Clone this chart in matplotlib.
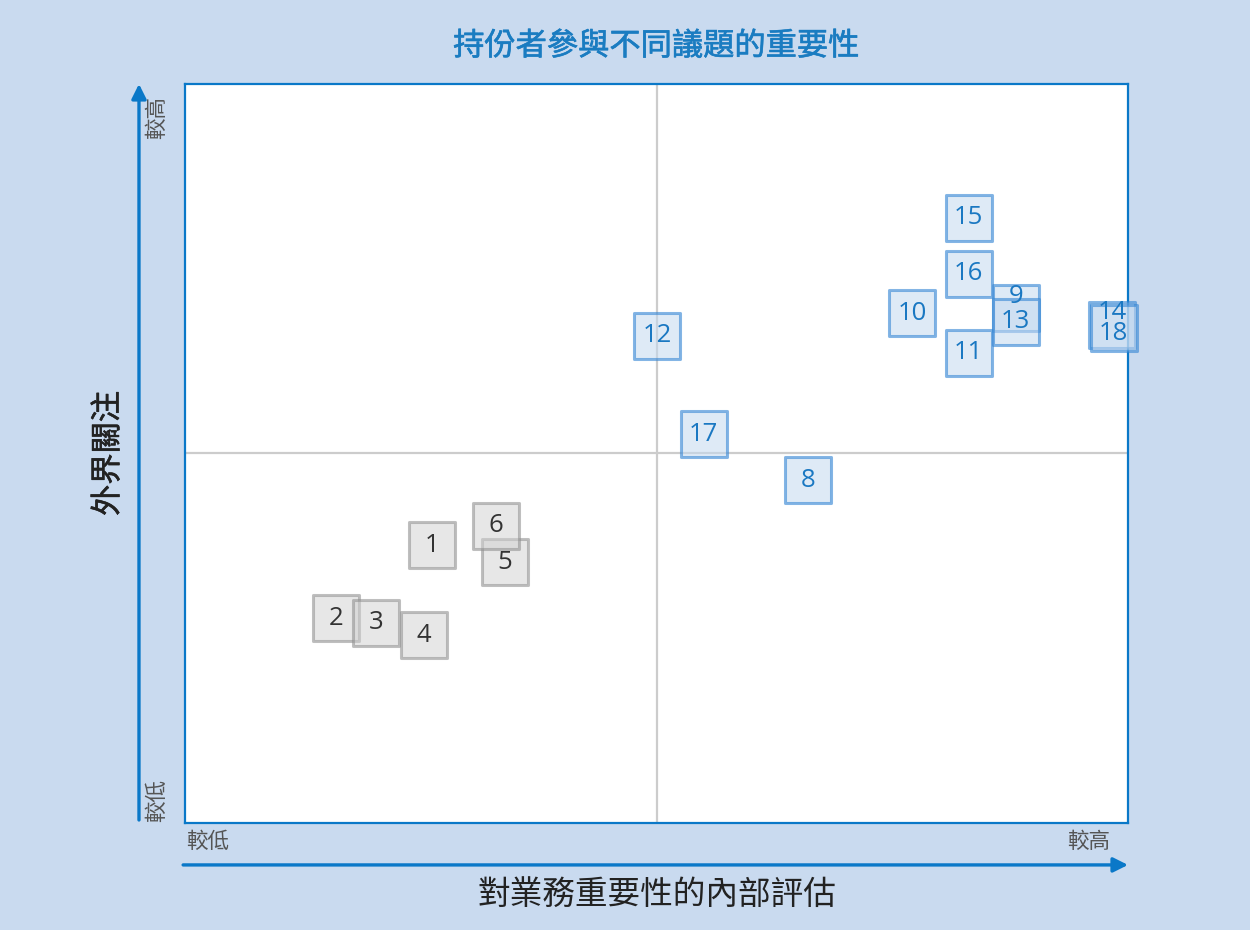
import matplotlib.pyplot as plt
import matplotlib.patheffects as pe

plt.rcParams['font.family'] = ['Noto Sans CJK TC', 'DejaVu Sans']

# Issue numbers with their position on the matrix (0-100 both ways)
issues = [1, 2, 3, 4, 5, 6, 8, 9, 10, 11, 12, 13, 14, 15, 16, 17, 18]
internal = [26.2, 16.0, 20.3, 25.3, 33.9, 33.0, 66.1, 88.1, 77.1, 83.1,
            50.1, 88.1, 98.3, 83.1, 83.1, 55.0, 98.5]
external = [37.6, 27.7, 27.1, 25.4, 35.3, 40.2, 46.4, 69.7, 69.0, 63.6,
            65.9, 67.8, 67.4, 81.9, 74.3, 52.6, 67.0]
low_priority = [1, 2, 3, 4, 5, 6]

title = '持份者參與不同議題的重要性'
x_title = '對業務重要性的內部評估'
y_title = '外界關注'
low_txt, high_txt = '較低', '較高'

# label nudges (points) where boxes overlap
label_nudge = {9: 8, 14: 9, 18: -4}

blue = '#0a78c8'

fig = plt.figure(figsize=(12.5, 9.3), dpi=100, facecolor='#c9daef')
ax = fig.add_axes([0.148, 0.1151, 0.7544, 0.7946])
ax.set_xlim(0, 100)
ax.set_ylim(0, 100)
ax.set_xticks([])
ax.set_yticks([])
for sp in ax.spines.values():
    sp.set_color(blue)
    sp.set_linewidth(1.6)

# quadrant lines
ax.axvline(50, color='#cccccc', lw=1.6, zorder=1)
ax.axhline(50, color='#cccccc', lw=1.6, zorder=1)

for n, x, y in zip(issues, internal, external):
    if n in low_priority:
        face, edge, txt = (0.82, 0.82, 0.82, 0.5), (0.55, 0.55, 0.55, 0.55), '#333333'
    else:
        face, edge, txt = (0.77, 0.85, 0.94, 0.55), (0.20, 0.52, 0.83, 0.6), '#1a78c2'
    ax.scatter([x], [y], marker='s', s=33 ** 2, facecolors=[face],
               edgecolors=[edge], linewidths=2.2, zorder=3, clip_on=False)
    ax.annotate(str(n), (x, y), xytext=(0, label_nudge.get(n, 0)),
                textcoords='offset points', ha='center', va='center',
                fontsize=18.5, color=txt, family=['Open Sans'], zorder=5,
                annotation_clip=False)

# axis arrows
ax.annotate('', xy=(-0.0488, 1.0), xytext=(-0.0488, 0.004), xycoords='axes fraction',
            arrowprops=dict(arrowstyle='-|>', color=blue, lw=2.4, mutation_scale=22,
                            shrinkA=0, shrinkB=0))
ax.annotate('', xy=(1.0, -0.0568), xytext=(-0.002, -0.0568), xycoords='axes fraction',
            arrowprops=dict(arrowstyle='-|>', color=blue, lw=2.4, mutation_scale=22,
                            shrinkA=0, shrinkB=0))

# low / high markers
ax.text(0.001, -0.026, low_txt, transform=ax.transAxes, ha='left', va='center',
        fontsize=15.5, color='#555555')
ax.text(0.981, -0.026, high_txt, transform=ax.transAxes, ha='right', va='center',
        fontsize=15.5, color='#555555')
ax.text(-0.0297, 0.984, high_txt, transform=ax.transAxes, ha='center', va='top',
        rotation=90, fontsize=15.5, color='#555555')
ax.text(-0.0297, 0.0014, low_txt, transform=ax.transAxes, ha='center', va='bottom',
        rotation=90, fontsize=15.5, color='#555555')

ax.text(0.5, -0.0974, x_title, transform=ax.transAxes, ha='center', va='center',
        fontsize=23.5, color='#222222')
ax.text(-0.0817, 0.5, y_title, transform=ax.transAxes, ha='center', va='center',
        rotation=90, fontsize=22.5, color='#222222',
        path_effects=[pe.withStroke(linewidth=0.4, foreground='#222222')])
fig.text(0.525, 0.9505, title, ha='center', va='center', fontsize=22.5,
         color='#1a7cc1',
         path_effects=[pe.withStroke(linewidth=0.45, foreground='#1a7cc1')])

fig.savefig('out.png', dpi=100, facecolor=fig.get_facecolor())
